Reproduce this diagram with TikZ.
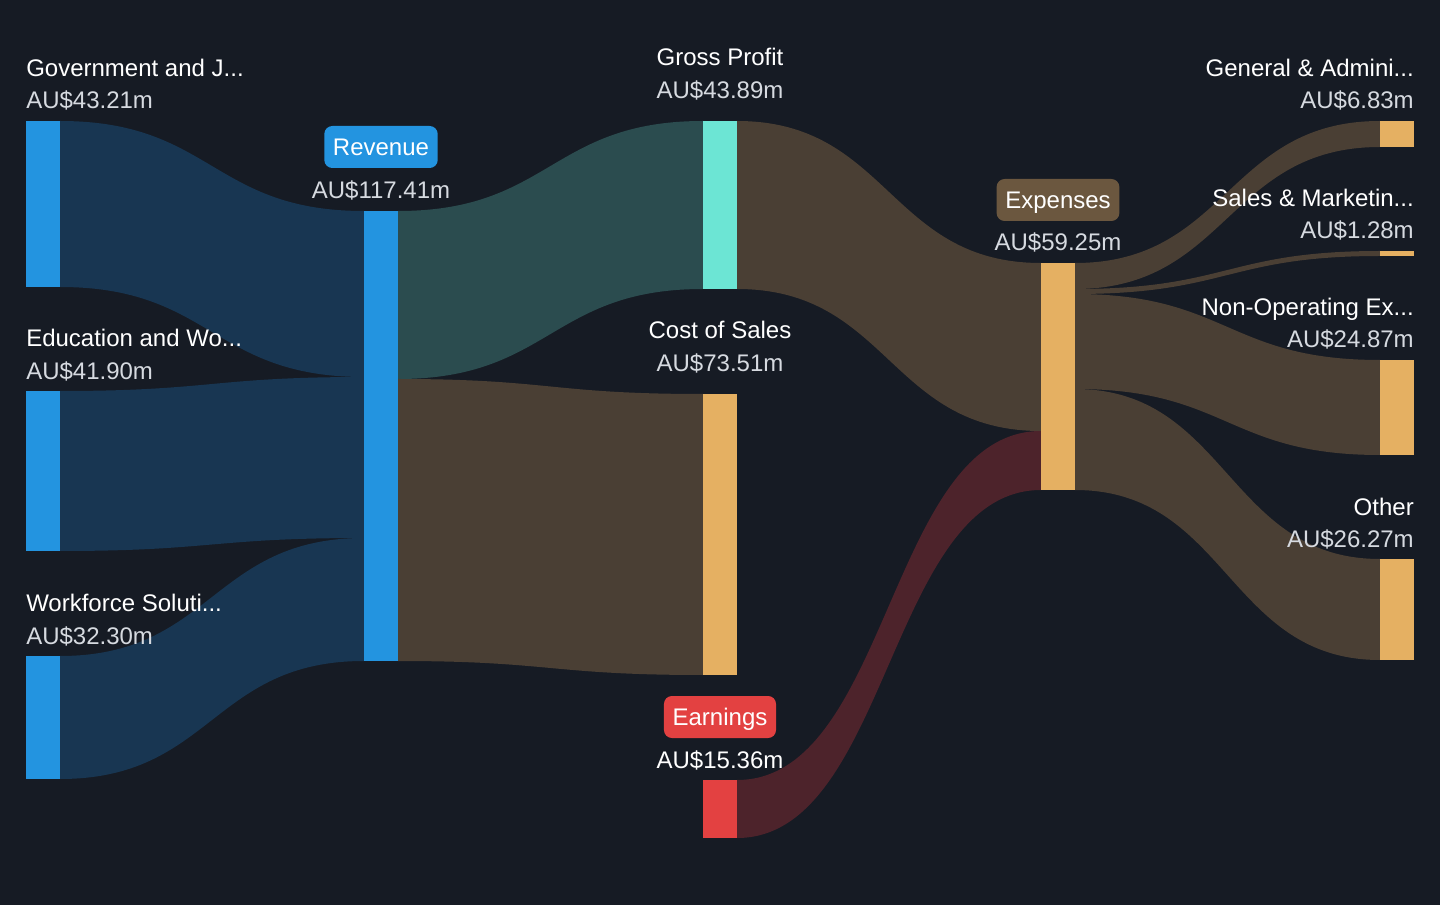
\documentclass[tikz,border=0pt]{standalone}
\usepackage{fontspec}
\setmainfont{Liberation Sans}
\definecolor{bgnavy}{RGB}{22,27,36}
\definecolor{segblue}{RGB}{35,148,224}
\definecolor{flowblue}{RGB}{24,54,82}
\definecolor{profitteal}{RGB}{108,229,212}
\definecolor{flowteal}{RGB}{43,76,79}
\definecolor{costorange}{RGB}{229,176,98}
\definecolor{flowbrown}{RGB}{74,63,52}
\definecolor{earnred}{RGB}{227,65,65}
\definecolor{flowred}{RGB}{77,35,43}
\definecolor{expbrown}{RGB}{107,87,63}
\definecolor{valgrey}{RGB}{214,218,224}

\begin{document}
\begin{tikzpicture}[x=0.75pt,y=0.75pt,yscale=-1,xscale=1,
	title/.style={inner sep=0pt, text=white, font=\fontsize{18}{21}\selectfont},
	amount/.style={inner sep=0pt, text=valgrey, font=\fontsize{18}{21}\selectfont},
	badge/.style={rounded corners=6pt, inner xsep=6.5pt, inner ysep=0pt, text height=12.9pt, text depth=0pt, minimum height=31.5pt, text=white, font=\fontsize{18}{21}\selectfont}]
	%set diagram left start at 0, and has height of 905
	\useasboundingbox (0,0) rectangle (1440,905);
	\fill [bgnavy] (0,0) rectangle (1440,905);
	
	%Shape: Flow Government -> Revenue
	\fill [flowblue] (60,121) .. controls (212,121) and (212,211) .. (364,211) -- (364,377) .. controls (212,377) and (212,287) .. (60,287) -- cycle ;
	%Shape: Flow Education -> Revenue
	\fill [flowblue] (60,391) .. controls (212,391) and (212,377) .. (364,377) -- (364,538) .. controls (212,538) and (212,551) .. (60,551) -- cycle ;
	%Shape: Flow Workforce -> Revenue
	\fill [flowblue] (60,656) .. controls (212,656) and (212,538) .. (364,538) -- (364,661) .. controls (212,661) and (212,779) .. (60,779) -- cycle ;
	%Shape: Flow Revenue -> Gross Profit
	\fill [flowteal] (398,211) .. controls (550.5,211) and (550.5,121) .. (703,121) -- (703,289) .. controls (550.5,289) and (550.5,379) .. (398,379) -- cycle ;
	%Shape: Flow Revenue -> Cost of Sales
	\fill [flowbrown] (398,379) .. controls (550.5,379) and (550.5,394) .. (703,394) -- (703,675) .. controls (550.5,675) and (550.5,661) .. (398,661) -- cycle ;
	%Shape: Flow Gross Profit -> Expenses
	\fill [flowbrown] (737,121) .. controls (889,121) and (889,263) .. (1041,263) -- (1041,431) .. controls (889,431) and (889,289) .. (737,289) -- cycle ;
	%Shape: Flow Earnings -> Expenses
	\fill [flowred] (737,780) .. controls (889,780) and (889,431) .. (1041,431) -- (1041,490) .. controls (889,490) and (889,838) .. (737,838) -- cycle ;
	%Shape: Flow Expenses -> General & Admin
	\fill [flowbrown] (1075,263) .. controls (1227.5,263) and (1227.5,121) .. (1380,121) -- (1380,147) .. controls (1227.5,147) and (1227.5,289) .. (1075,289) -- cycle ;
	%Shape: Flow Expenses -> Sales & Marketing
	\fill [flowbrown] (1075,289) .. controls (1227.5,289) and (1227.5,251) .. (1380,251) -- (1380,256) .. controls (1227.5,256) and (1227.5,294) .. (1075,294) -- cycle ;
	%Shape: Flow Expenses -> Non-Operating
	\fill [flowbrown] (1075,294) .. controls (1227.5,294) and (1227.5,360) .. (1380,360) -- (1380,455) .. controls (1227.5,455) and (1227.5,389) .. (1075,389) -- cycle ;
	%Shape: Flow Expenses -> Other
	\fill [flowbrown] (1075,389) .. controls (1227.5,389) and (1227.5,559) .. (1380,559) -- (1380,660) .. controls (1227.5,660) and (1227.5,490) .. (1075,490) -- cycle ;
	
	%Shape: Bars
	\fill [segblue] (26,121) rectangle (60,287) ;
	\fill [segblue] (26,391) rectangle (60,551) ;
	\fill [segblue] (26,656) rectangle (60,779) ;
	\fill [segblue] (364,211) rectangle (398,661) ;
	\fill [profitteal] (703,121) rectangle (737,289) ;
	\fill [costorange] (703,394) rectangle (737,675) ;
	\fill [earnred] (703,780) rectangle (737,838) ;
	\fill [costorange] (1041,263) rectangle (1075,490) ;
	\fill [costorange] (1380,121) rectangle (1414,147) ;
	\fill [costorange] (1380,251) rectangle (1414,256) ;
	\fill [costorange] (1380,360) rectangle (1414,455) ;
	\fill [costorange] (1380,559) rectangle (1414,660) ;
	
	% Text Node
	\node [title, anchor=base west] (govname) at (26,76.5) {Government and J...};
	\node [amount, anchor=base west] (govval) at (26,108.5) {AU\$43.21m};
	% Text Node
	\node [title, anchor=base west] (eduname) at (26,346.5) {Education and Wo...};
	\node [amount, anchor=base west] (eduval) at (26,379.5) {AU\$41.90m};
	% Text Node
	\node [title, anchor=base west] (wfname) at (26,611.5) {Workforce Soluti...};
	\node [amount, anchor=base west] (wfval) at (26,644.5) {AU\$32.30m};
	% Text Node
	\node [badge, fill=segblue] (revname) at (381,147) {Revenue};
	\node [amount, anchor=base] (revval) at (381,198.5) {AU\$117.41m};
	% Text Node
	\node [title, anchor=base] (gpname) at (720,65.5) {Gross Profit};
	\node [amount, anchor=base] (gpval) at (720,98.5) {AU\$43.89m};
	% Text Node
	\node [title, anchor=base] (cosname) at (720,338.5) {Cost of Sales};
	\node [amount, anchor=base] (cosval) at (720,371.5) {AU\$73.51m};
	% Text Node
	\node [badge, fill=earnred] (earnname) at (720,717) {Earnings};
	\node [title, anchor=base] (earnval) at (720,768.5) {AU\$15.36m};
	% Text Node
	\node [badge, fill=expbrown] (expname) at (1058,200) {Expenses};
	\node [amount, anchor=base] (expval) at (1058,250.5) {AU\$59.25m};
	% Text Node
	\node [title, anchor=base east] (ganame) at (1414,76.5) {General \& Admini...};
	\node [amount, anchor=base east] (gaval) at (1414,108.5) {AU\$6.83m};
	% Text Node
	\node [title, anchor=base east] (smname) at (1414,206.5) {Sales \& Marketin...};
	\node [amount, anchor=base east] (smval) at (1414,238.5) {AU\$1.28m};
	% Text Node
	\node [title, anchor=base east] (noname) at (1414,315.5) {Non-Operating Ex...};
	\node [amount, anchor=base east] (noval) at (1414,347.5) {AU\$24.87m};
	% Text Node
	\node [title, anchor=base east] (othname) at (1414,515.5) {Other};
	\node [amount, anchor=base east] (othval) at (1414,547.5) {AU\$26.27m};
	
\end{tikzpicture}
\end{document}
